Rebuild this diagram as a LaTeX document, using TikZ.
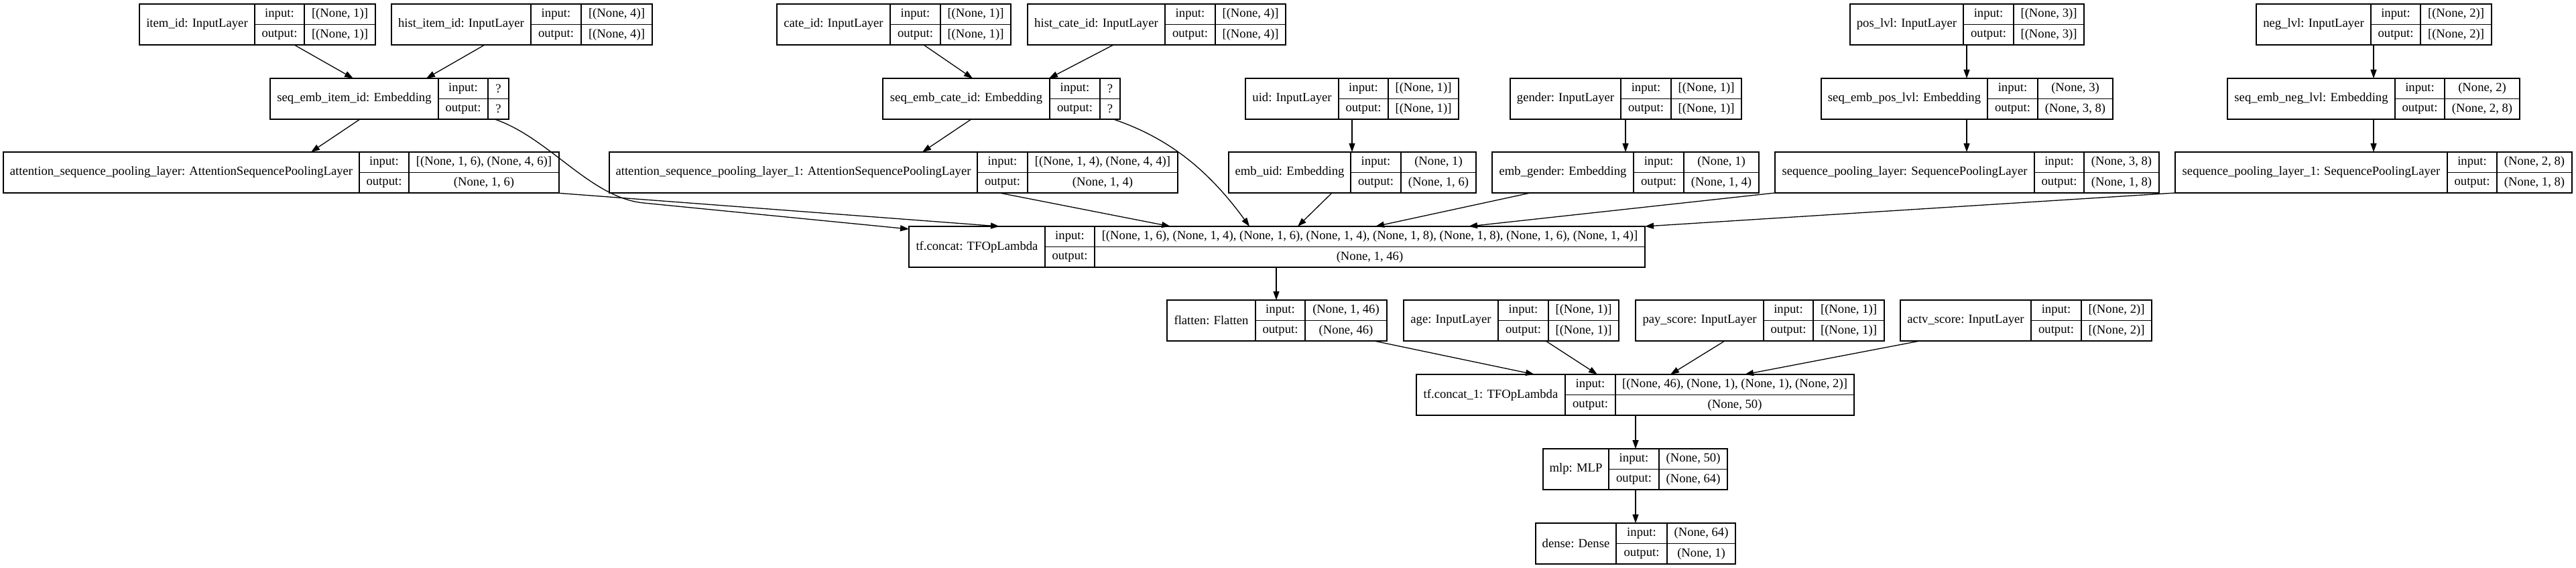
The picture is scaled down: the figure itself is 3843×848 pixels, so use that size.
\documentclass[tikz,border=0pt]{standalone}
\usepackage{fontspec}
\setmainfont{Liberation Serif}
\usetikzlibrary{arrows.meta}
\tikzset{layer/.style={draw, rectangle, line width=1.3pt, inner sep=0pt, outer sep=0pt, minimum height=61pt},
 cell/.style={line width=1.3pt},
 txt/.style={inner sep=0pt, font=\fontsize{18.67}{22}\selectfont},
 arr/.style={line width=1.3pt, -{Triangle[length=13pt, width=9pt]}},
 }
% record box: name, left, div1, div2, right, top, label, input, output
\newcommand{\layernode}[9]{%
  \pgfmathsetmacro{\lw}{#5-#2}
  \node[layer, minimum width=\lw pt, anchor=north west] (#1) at (#2, #6) {};
  \draw[cell] (#3, #6) -- ++(0, 61) (#4, #6) -- ++(0, 61) (#3, {#6+30.5}) -- (#5, {#6+30.5});
  \node[txt] (#1-name) at ({(#2+#3)/2}, {#6+30.5}) {#7};
  \node[txt] (#1-inl) at ({(#3+#4)/2}, {#6+15.25}) {input:};
  \node[txt] (#1-outl) at ({(#3+#4)/2}, {#6+45.75}) {output:};
  \node[txt] (#1-in) at ({(#4+#5)/2}, {#6+15.25}) {#8};
  \node[txt] (#1-out) at ({(#4+#5)/2}, {#6+45.75}) {#9};
}
\begin{document}
\begin{tikzpicture}[x=1pt, y=-1pt]
        \fill[white] (0, 0) rectangle (3843, 848);
        \useasboundingbox (0, 0) rectangle (3843, 848);
        % inputs
        \layernode{itemid}{208}{380}{454}{560}{6}{item\_id: InputLayer}{[(None, 1)]}{[(None, 1)]}
        \layernode{histitem}{584}{792}{867}{973}{6}{hist\_item\_id: InputLayer}{[(None, 4)]}{[(None, 4)]}
        \layernode{cateid}{1159}{1328}{1403}{1508}{6}{cate\_id: InputLayer}{[(None, 1)]}{[(None, 1)]}
        \layernode{histcate}{1533}{1738}{1813}{1918}{6}{hist\_cate\_id: InputLayer}{[(None, 4)]}{[(None, 4)]}
        \layernode{poslvl}{2760}{2929}{3004}{3109}{6}{pos\_lvl: InputLayer}{[(None, 3)]}{[(None, 3)]}
        \layernode{neglvl}{3366}{3537}{3611}{3717}{6}{neg\_lvl: InputLayer}{[(None, 2)]}{[(None, 2)]}
        % embeddings
        \layernode{seqitem}{403}{654}{728}{759}{117}{seq\_emb\_item\_id: Embedding}{?}{?}
        \layernode{seqcate}{1317}{1566}{1641}{1671}{117}{seq\_emb\_cate\_id: Embedding}{?}{?}
        \layernode{uid}{1858}{1997}{2071}{2176}{117}{uid: InputLayer}{[(None, 1)]}{[(None, 1)]}
        \layernode{gender}{2253}{2418}{2493}{2598}{117}{gender: InputLayer}{[(None, 1)]}{[(None, 1)]}
        \layernode{seqpos}{2717}{2965}{3040}{3152}{117}{seq\_emb\_pos\_lvl: Embedding}{(None, 3)}{(None, 3, 8)}
        \layernode{seqneg}{3323}{3573}{3647}{3759}{117}{seq\_emb\_neg\_lvl: Embedding}{(None, 2)}{(None, 2, 8)}
        % pooling
        \layernode{attn}{5}{536}{610}{834}{227}{attention\_sequence\_pooling\_layer: AttentionSequencePoolingLayer}{[(None, 1, 6), (None, 4, 6)]}{(None, 1, 6)}
        \layernode{attnone}{909}{1458}{1533}{1757}{227}{attention\_sequence\_pooling\_layer\_1: AttentionSequencePoolingLayer}{[(None, 1, 4), (None, 4, 4)]}{(None, 1, 4)}
        \layernode{embuid}{1833}{2015}{2090}{2202}{227}{emb\_uid: Embedding}{(None, 1)}{(None, 1, 6)}
        \layernode{embgender}{2226}{2437}{2512}{2624}{227}{emb\_gender: Embedding}{(None, 1)}{(None, 1, 4)}
        \layernode{seqpool}{2648}{3035}{3109}{3221}{227}{sequence\_pooling\_layer: SequencePoolingLayer}{(None, 3, 8)}{(None, 1, 8)}
        \layernode{seqpoolone}{3245}{3651}{3725}{3837}{227}{sequence\_pooling\_layer\_1: SequencePoolingLayer}{(None, 2, 8)}{(None, 1, 8)}
        % concat and head
        \layernode{concat}{1356}{1559}{1633}{2454}{338}{tf.concat: TFOpLambda}{[(None, 1, 6), (None, 1, 4), (None, 1, 6), (None, 1, 4), (None, 1, 8), (None, 1, 8), (None, 1, 6), (None, 1, 4)]}{(None, 1, 46)}
        \layernode{flatten}{1741}{1873}{1947}{2069}{448}{flatten: Flatten}{(None, 1, 46)}{(None, 46)}
        \layernode{age}{2094}{2235}{2310}{2415}{448}{age: InputLayer}{[(None, 1)]}{[(None, 1)]}
        \layernode{payscore}{2440}{2631}{2705}{2811}{448}{pay\_score: InputLayer}{[(None, 1)]}{[(None, 1)]}
        \layernode{actvscore}{2835}{3030}{3105}{3210}{448}{actv\_score: InputLayer}{[(None, 2)]}{[(None, 2)]}
        \layernode{concatone}{2113}{2335}{2410}{2766}{559}{tf.concat\_1: TFOpLambda}{[(None, 46), (None, 1), (None, 1), (None, 2)]}{(None, 50)}
        \layernode{mlp}{2302}{2400}{2475}{2577}{670}{mlp: MLP}{(None, 50)}{(None, 64)}
        \layernode{dense}{2291}{2411}{2487}{2589}{781}{dense: Dense}{(None, 64)}{(None, 1)}
        % edges
        \draw[arr] ([xshift=231pt]itemid.south west) -- ([xshift=124pt]seqitem.north west);
        \draw[arr] ([xshift=139pt]histitem.south west) -- ([xshift=233pt]seqitem.north west);
        \draw[arr] ([xshift=134pt]seqitem.south west) -- ([xshift=459pt]attn.north west);
        \draw[arr] ([xshift=-21pt]seqitem.south east) .. controls +(82, 28) and +(-80, -8) .. ++(222, 125) -- ([yshift=-4pt]concat.north west);
        \draw[arr] ([xshift=-5pt]attn.south east) -- ([xshift=135pt]concat.north west);
        \draw[arr] ([xshift=219pt]cateid.south west) -- ([xshift=134pt]seqcate.north west);
        \draw[arr] ([xshift=128pt]histcate.south west) -- ([xshift=248pt]seqcate.north west);
        \draw[arr] ([xshift=132pt]seqcate.south west) -- ([xshift=467pt]attnone.north west);
        \draw[arr] ([xshift=344pt]seqcate.south west) .. controls +(79, 27) and +(-64, -88) .. ([xshift=508pt]concat.north west);
        \draw[arr] ([xshift=582pt]attnone.south west) -- ([xshift=390pt]concat.north west);
        \draw[arr] ([xshift=159pt]uid.south west) -- ([xshift=184pt]embuid.north west);
        \draw[arr] ([xshift=154pt]embuid.south west) -- ([xshift=580pt]concat.north west);
        \draw[arr] ([xshift=172pt]gender.south west) -- ([xshift=199pt]embgender.north west);
        \draw[arr] ([xshift=57pt]embgender.south west) -- ([xshift=696pt]concat.north west);
        \draw[arr] ([xshift=174pt]poslvl.south west) -- ([xshift=217pt]seqpos.north west);
        \draw[arr] ([xshift=217pt]seqpos.south west) -- ([xshift=286pt]seqpool.north west);
        \draw[arr] (seqpool.south west) -- ([xshift=835pt]concat.north west);
        \draw[arr] ([xshift=175pt]neglvl.south west) -- ([xshift=218pt]seqneg.north west);
        \draw[arr] ([xshift=218pt]seqneg.south west) -- ([xshift=296pt]seqpoolone.north west);
        \draw[arr] (seqpoolone.south west) -- (concat.north east);
        \draw[arr] ([xshift=548pt]concat.south west) -- ([xshift=163pt]flatten.north west);
        \draw[arr] ([xshift=309pt]flatten.south west) -- ([xshift=176pt]concatone.north west);
        \draw[arr] ([xshift=212pt]age.south west) -- ([xshift=270pt]concatone.north west);
        \draw[arr] ([xshift=133pt]payscore.south west) -- ([xshift=379pt]concatone.north west);
        \draw[arr] ([xshift=29pt]actvscore.south west) -- ([xshift=490pt]concatone.north west);
        \draw[arr] ([xshift=327pt]concatone.south west) -- ([xshift=138pt]mlp.north west);
        \draw[arr] ([xshift=138pt]mlp.south west) -- ([xshift=149pt]dense.north west);
    \end{tikzpicture}
\end{document}
